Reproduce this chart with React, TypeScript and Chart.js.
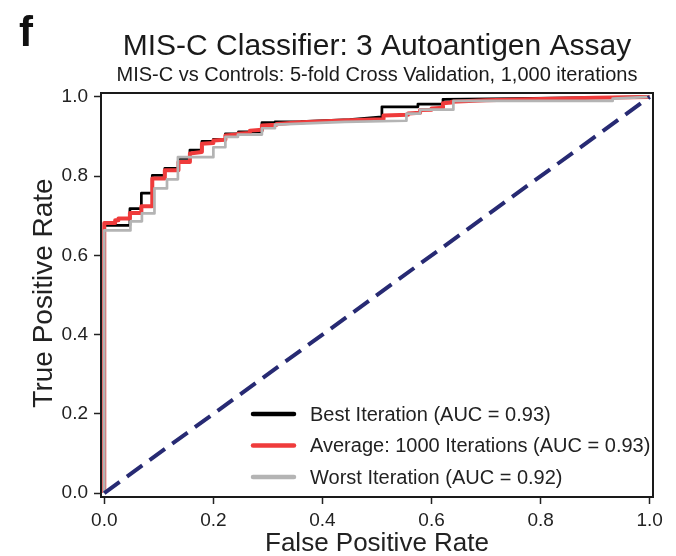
import React, { useEffect, useRef } from "react";
import { Chart, registerables } from "chart.js";

Chart.register(...registerables);

// ROC curve corner points (FPR, TPR)
const bestFpr = [0, 0, 0.047, 0.047, 0.068, 0.068, 0.088, 0.088, 0.111, 0.111, 0.136, 0.136, 0.157, 0.157, 0.179, 0.179, 0.2, 0.2, 0.222, 0.222, 0.246, 0.246, 0.289, 0.289, 0.313, 0.313, 0.36, 0.45, 0.509, 0.509, 0.575, 0.575, 0.621, 0.621, 0.75, 1.0];
const bestTpr = [0, 0.676, 0.676, 0.718, 0.718, 0.757, 0.757, 0.802, 0.802, 0.82, 0.82, 0.845, 0.845, 0.866, 0.866, 0.888, 0.888, 0.893, 0.893, 0.907, 0.907, 0.912, 0.912, 0.935, 0.935, 0.937, 0.938, 0.943, 0.95, 0.975, 0.975, 0.982, 0.982, 0.994, 0.996, 1.0];

const avgFpr = [0, 0, 0.02, 0.02, 0.026, 0.026, 0.047, 0.047, 0.068, 0.068, 0.088, 0.088, 0.111, 0.111, 0.136, 0.136, 0.157, 0.157, 0.179, 0.179, 0.2, 0.2, 0.222, 0.222, 0.245, 0.245, 0.267, 0.267, 0.289, 0.289, 0.316, 0.316, 0.36, 0.45, 0.512, 0.512, 0.557, 0.557, 0.579, 0.579, 0.6, 0.6, 0.621, 0.621, 0.637, 0.637, 0.7, 0.8, 0.9, 1.0];
const avgTpr = [0, 0.682, 0.682, 0.689, 0.689, 0.693, 0.693, 0.707, 0.707, 0.724, 0.724, 0.794, 0.794, 0.815, 0.815, 0.836, 0.836, 0.857, 0.861, 0.882, 0.884, 0.89, 0.892, 0.903, 0.905, 0.907, 0.909, 0.915, 0.917, 0.928, 0.93, 0.932, 0.936, 0.941, 0.944, 0.953, 0.955, 0.958, 0.96, 0.967, 0.968, 0.971, 0.973, 0.984, 0.986, 0.988, 0.992, 0.995, 0.998, 1.0];

const worstFpr = [0, 0, 0.048, 0.048, 0.069, 0.069, 0.092, 0.092, 0.115, 0.115, 0.135, 0.135, 0.2, 0.2, 0.222, 0.222, 0.245, 0.245, 0.289, 0.289, 0.313, 0.313, 0.441, 0.554, 0.554, 0.579, 0.579, 0.64, 0.64, 0.932, 0.932, 1.0];
const worstTpr = [0, 0.663, 0.663, 0.686, 0.686, 0.706, 0.706, 0.769, 0.769, 0.792, 0.792, 0.848, 0.848, 0.873, 0.873, 0.899, 0.899, 0.905, 0.905, 0.921, 0.921, 0.93, 0.937, 0.94, 0.958, 0.958, 0.968, 0.968, 0.99, 0.99, 0.996, 1.0];

const chanceFpr = [0, 1];
const chanceTpr = [0, 1];

const xTicks = [0, 0.2, 0.4, 0.6, 0.8, 1.0];
const yTicks = [0, 0.2, 0.4, 0.6, 0.8, 1.0];

const panelLetter = "f";
const titleText = "MIS-C Classifier: 3 Autoantigen Assay";
const subtitleText = "MIS-C vs Controls: 5-fold Cross Validation, 1,000 iterations";
const xTitle = "False Positive Rate";
const yTitle = "True Positive Rate";
const legendLabels = [
  "Best Iteration (AUC = 0.93)",
  "Average: 1000 Iterations (AUC = 0.93)",
  "Worst Iteration (AUC = 0.92)",
];
const legendColors = ["#000000", "#ef3b3b", "#b4b4b4"];

const FONT = "'Liberation Sans', Arial, Helvetica, sans-serif";

const toPts = (xs: number[], ys: number[]) => xs.map((x, i) => ({ x, y: ys[i] }));

export default function App() {
  const ref = useRef<HTMLCanvasElement>(null);

  useEffect(() => {
    if (!ref.current) return;

    const annot = {
      id: "annot",
      afterDraw(chart: any) {
        const ctx = chart.ctx as CanvasRenderingContext2D;
        const a = chart.chartArea;
        const cx = (a.left + a.right) / 2;
        ctx.save();
        // frame
        ctx.strokeStyle = "#1a1a1a";
        ctx.lineWidth = 2;
        ctx.strokeRect(a.left, a.top, a.right - a.left, a.bottom - a.top);

        ctx.fillStyle = "#111111";
        ctx.textBaseline = "alphabetic";
        // panel letter
        ctx.textAlign = "left";
        ctx.font = `bold 42px ${FONT}`;
        ctx.fillText(panelLetter, 19, 46);
        // titles
        ctx.fillStyle = "#1a1a1a";
        ctx.textAlign = "center";
        ctx.font = `30px ${FONT}`;
        ctx.fillText(titleText, cx, 55);
        ctx.font = `20px ${FONT}`;
        ctx.fillText(subtitleText, cx, 81);
        // x title
        ctx.fillStyle = "#222222";
        ctx.font = `26px ${FONT}`;
        ctx.fillText(xTitle, cx, 551);
        // y title
        ctx.save();
        ctx.translate(52, (a.top + a.bottom) / 2 - 2);
        ctx.rotate(-Math.PI / 2);
        ctx.font = `28px ${FONT}`;
        ctx.fillText(yTitle, 0, 0);
        ctx.restore();

        // legend
        ctx.textAlign = "left";
        ctx.textBaseline = "middle";
        ctx.font = `20px ${FONT}`;
        const rows = [414, 445.5, 477];
        legendLabels.forEach((lab, i) => {
          ctx.strokeStyle = legendColors[i];
          ctx.lineWidth = 4.5;
          ctx.lineCap = "round";
          ctx.beginPath();
          ctx.moveTo(253, rows[i]);
          ctx.lineTo(294, rows[i]);
          ctx.stroke();
          ctx.fillStyle = "#222222";
          ctx.fillText(lab, 310, rows[i] + 1);
        });
        ctx.restore();
      },
    };

    const common = {
      pointRadius: 0,
      pointHoverRadius: 0,
      fill: false,
      tension: 0,
      borderCapStyle: "butt" as const,
      borderJoinStyle: "round" as const,
    };

    const chart = new Chart(ref.current, {
      type: "line",
      data: {
        datasets: [
          { ...common, label: "Chance", data: toPts(chanceFpr, chanceTpr), borderColor: "#272a73", borderWidth: 4, borderDash: [19, 9], order: 0 },
          { ...common, label: legendLabels[2], data: toPts(worstFpr, worstTpr), borderColor: legendColors[2], borderWidth: 2.7, order: 1 },
          { ...common, label: legendLabels[1], data: toPts(avgFpr, avgTpr), borderColor: legendColors[1], borderWidth: 4, order: 2 },
          { ...common, label: legendLabels[0], data: toPts(bestFpr, bestTpr), borderColor: legendColors[0], borderWidth: 2.7, order: 3 },
        ],
      },
      options: {
        animation: false,
        responsive: true,
        maintainAspectRatio: false,
        devicePixelRatio: 1,
        layout: { padding: { top: 93, right: 23, left: 0, bottom: 0 } },
        plugins: { legend: { display: false }, tooltip: { enabled: false }, title: { display: false } },
        events: [],
        scales: {
          x: {
            type: "linear",
            min: -0.006,
            max: 1.006,
            afterBuildTicks: (s: any) => { s.ticks = xTicks.map((v) => ({ value: v })); },
            afterFit: (s: any) => { s.height = 59; },
            grid: { display: true, drawOnChartArea: false, drawTicks: true, tickLength: 7, tickWidth: 1.5, tickColor: "#222222" },
            border: { display: false },
            ticks: { font: { family: FONT, size: 19 }, color: "#222222", padding: 5, maxRotation: 0, autoSkip: false, callback: (v: any) => Number(v).toFixed(1) },
          },
          y: {
            type: "linear",
            min: -0.01,
            max: 1.01,
            afterBuildTicks: (s: any) => { s.ticks = yTicks.map((v) => ({ value: v })); },
            afterFit: (s: any) => { s.width = 101; },
            grid: { display: true, drawOnChartArea: false, drawTicks: true, tickLength: 7, tickWidth: 1.5, tickColor: "#222222" },
            border: { display: false },
            ticks: { font: { family: FONT, size: 19 }, color: "#222222", padding: 6, autoSkip: false, callback: (v: any) => Number(v).toFixed(1) },
          },
        },
      },
      plugins: [annot],
    });

    return () => chart.destroy();
  }, []);

  return (
    <div style={{ position: "fixed", left: 0, top: 0, width: 676, height: 556, background: "#ffffff" }}>
      <canvas ref={ref} />
    </div>
  );
}
